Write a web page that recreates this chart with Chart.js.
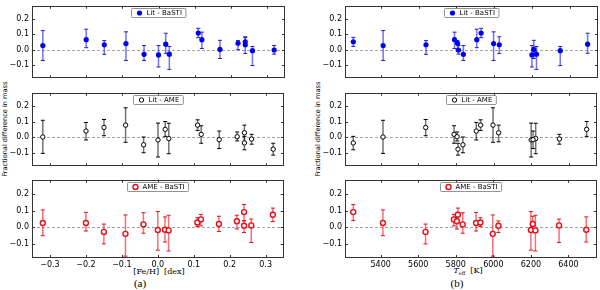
<!DOCTYPE html>
<html>
<head>
<meta charset="utf-8">
<script src="https://cdn.jsdelivr.net/npm/chart.js@4.4.0/dist/chart.umd.min.js"></script>
<style>
  body { margin: 0; width: 600px; height: 290px; overflow: hidden; position: relative; background: #fff; font-family: 'DejaVu Sans', sans-serif; }
  canvas { position: absolute; }
  .lbl { position: absolute; white-space: nowrap; transform: translate(-50%, -50%); color: #000; }
  .ylab { font-size: 6.6px; transform: translate(-50%, -50%) rotate(-90deg); }
  .xlab { font-family: 'DejaVu Serif', serif; font-size: 8px; }
  .cap { font-family: 'Liberation Serif', serif; font-size: 11px; }
</style>
</head>
<body>

<div class="lbl ylab" style="left:5px;top:129px">Fractional difference in mass</div>
<div class="lbl ylab" style="left:318px;top:129px">Fractional difference in mass</div>
<div class="lbl xlab" style="left:159px;top:271px">[Fe/H] &nbsp;[dex]</div>
<div class="lbl xlab" style="left:468px;top:271px"><i>T</i><sub style="font-size:5px">eff</sub> &nbsp;[K]</div>
<div class="lbl cap" style="left:140px;top:283px">(a)</div>
<div class="lbl cap" style="left:457px;top:283px">(b)</div>

<script>
// one entry per star, same order in every array
const feh  = [-0.32, -0.20, -0.15, -0.09, -0.04, 0.00, 0.02, 0.03, 0.11, 0.12, 0.17, 0.22, 0.24, 0.24, 0.26, 0.32];
const teff = [5412, 5908, 5639, 5997, 5837, 6200, 6495, 6224, 5931, 5790, 6210, 5806, 5254, 6027, 6350, 5811];

// Lit - BaSTI
const litBasti   = [0.027, 0.065, 0.032, 0.040, -0.030, -0.034, 0.036, -0.029, 0.108, 0.065, 0.002, 0.042, 0.051, 0.032, -0.006, -0.002];
const litBastiLo = [-0.070, 0.013, -0.030, -0.070, -0.070, -0.112, -0.023, -0.128, 0.078, 0.008, -0.057, 0.000, 0.021, -0.025, -0.103, -0.029];
const litBastiHi = [0.124, 0.133, 0.059, 0.116, 0.027, 0.027, 0.107, 0.021, 0.139, 0.114, 0.061, 0.059, 0.080, 0.084, 0.021, 0.027];

// Lit - AME
const litAme   = [0.002, 0.040, 0.063, 0.078, -0.048, -0.017, 0.051, -0.008, 0.078, 0.019, -0.015, 0.004, -0.036, 0.029, -0.011, -0.076];
const litAmeLo = [-0.103, -0.017, 0.010, -0.032, -0.099, -0.126, 0.006, -0.105, 0.044, -0.038, -0.072, -0.023, -0.080, -0.029, -0.044, -0.114];
const litAmeHi = [0.109, 0.095, 0.114, 0.189, 0.002, 0.091, 0.101, 0.090, 0.112, 0.074, 0.040, 0.034, 0.006, 0.078, 0.019, -0.038];

// AME - BaSTI
const ameBasti   = [0.025, 0.025, -0.028, -0.040, 0.017, -0.017, -0.015, -0.019, 0.028, 0.047, 0.019, 0.036, 0.091, 0.009, 0.011, 0.075];
const ameBastiLo = [-0.051, -0.023, -0.100, -0.174, -0.036, -0.138, -0.089, -0.143, 0.004, 0.008, -0.026, -0.011, 0.040, -0.032, -0.092, 0.034];
const ameBastiHi = [0.104, 0.089, 0.019, 0.074, 0.087, 0.094, 0.062, 0.072, 0.057, 0.077, 0.066, 0.072, 0.136, 0.038, 0.049, 0.115];

const fehTicks  = [-0.3, -0.2, -0.1, 0.0, 0.1, 0.2, 0.3];
const teffTicks = [5400, 5600, 5800, 6000, 6200, 6400];
const yTicks    = [-0.1, 0.0, 0.1, 0.2];

// layout (pixels)
const yW = 32, pad = 3, areaW = 254;
const cols = [
  { left: 32,  min: -0.35, max: 0.35, xs: feh,  ticks: fehTicks },
  { left: 345, min: 5210,  max: 6550, xs: teff, ticks: teffTicks }
];
const rows = [
  { top: 1,   h: 82, label: 'Lit - BaSTI', y: litBasti, lo: litBastiLo, hi: litBastiHi,
    fill: '#0000f0', edge: '#0000f0', r: 2.6, bw: 0, bar: 'rgba(40,40,230,0.65)', capc: '#2020c0' },
  { top: 88,  h: 83, label: 'Lit - AME', y: litAme, lo: litAmeLo, hi: litAmeHi,
    fill: '#ffffff', edge: '#000000', r: 2.2, bw: 1, bar: 'rgba(0,0,0,0.55)', capc: '#000' },
  { top: 175, h: 83, label: 'AME - BaSTI', y: ameBasti, lo: ameBastiLo, hi: ameBastiHi,
    fill: '#ffffff', edge: '#e8101a', r: 2.5, bw: 1.4, bar: 'rgba(230,20,30,0.6)', capc: '#e01018' }
];

const fmt = v => (v < 0 ? '\u2212' : '') + Math.abs(v).toFixed(1);

function marker(ctx, x, y, s) {
  ctx.beginPath();
  ctx.arc(x, y, s.r, 0, Math.PI * 2);
  ctx.fillStyle = s.fill;
  ctx.fill();
  if (s.bw) { ctx.lineWidth = s.bw; ctx.strokeStyle = s.edge; ctx.stroke(); }
}

const panelPlugin = {
  id: 'panel',
  beforeDatasetsDraw(chart, args, opts) {
    const { ctx, chartArea: a, scales: { x, y } } = chart;
    ctx.save();
    // dashed zero line
    const y0 = Math.round(y.getPixelForValue(0)) + 0.5;
    ctx.setLineDash([3, 2]);
    ctx.strokeStyle = '#8c8c8c';
    ctx.lineWidth = 0.8;
    ctx.beginPath(); ctx.moveTo(a.left, y0); ctx.lineTo(a.right, y0); ctx.stroke();
    ctx.setLineDash([]);
    // error bars
    chart.data.datasets[0].data.forEach(p => {
      const px = x.getPixelForValue(p.x);
      const t = y.getPixelForValue(p.hi), b = y.getPixelForValue(p.lo);
      ctx.strokeStyle = opts.s.bar; ctx.lineWidth = 1.5;
      ctx.beginPath(); ctx.moveTo(px, t); ctx.lineTo(px, b); ctx.stroke();
      ctx.strokeStyle = opts.s.capc; ctx.lineWidth = 1;
      ctx.beginPath();
      ctx.moveTo(px - 2, t); ctx.lineTo(px + 2, t);
      ctx.moveTo(px - 2, b); ctx.lineTo(px + 2, b);
      ctx.stroke();
    });
    ctx.restore();
  },
  afterDraw(chart, args, opts) {
    const { ctx, chartArea: a, scales: { x, y } } = chart;
    ctx.save();
    ctx.strokeStyle = '#333';
    ctx.lineWidth = 1;
    ctx.strokeRect(Math.round(a.left) + 0.5, Math.round(a.top) + 0.5, Math.round(a.right - a.left) - 1, Math.round(a.bottom - a.top) - 1);
    // inward tick marks
    ctx.beginPath();
    x.ticks.forEach(t => {
      const px = Math.round(x.getPixelForValue(t.value)) + 0.5;
      ctx.moveTo(px, a.top); ctx.lineTo(px, a.top + 3);
      ctx.moveTo(px, a.bottom); ctx.lineTo(px, a.bottom - 3);
    });
    y.ticks.forEach(t => {
      const py = Math.round(y.getPixelForValue(t.value)) + 0.5;
      ctx.moveTo(a.left, py); ctx.lineTo(a.left + 3, py);
      ctx.moveTo(a.right, py); ctx.lineTo(a.right - 3, py);
    });
    ctx.stroke();
    // legend box
    ctx.font = '7px "DejaVu Sans"';
    const tw = ctx.measureText(opts.s.label).width;
    const bw = tw + 19, bh = 9;
    const bx = Math.round((a.left + a.right) / 2 - bw / 2) + 0.5, by = Math.round(a.top) + 2.5;
    ctx.fillStyle = '#fff';
    ctx.strokeStyle = '#777';
    ctx.lineWidth = 0.8;
    ctx.beginPath(); ctx.roundRect(bx, by, bw, bh, 1); ctx.fill(); ctx.stroke();
    marker(ctx, bx + 8, by + bh / 2, opts.s);
    ctx.fillStyle = '#000';
    ctx.textBaseline = 'middle';
    ctx.fillText(opts.s.label, bx + 15, by + bh / 2 + 0.5);
    ctx.restore();
  }
};

cols.forEach(c => {
  rows.forEach((s, ri) => {
    const bottom = ri === rows.length - 1;
    const xH = bottom ? 14 : pad;
    const cv = document.createElement('canvas');
    cv.width = yW + areaW + pad;
    cv.height = pad + s.h + xH;
    cv.style.left = (c.left - yW) + 'px';
    cv.style.top = (s.top - pad) + 'px';
    document.body.appendChild(cv);

    const pts = c.xs.map((xv, i) => ({ x: xv, y: s.y[i], lo: s.lo[i], hi: s.hi[i] }));

    new Chart(cv, {
      type: 'scatter',
      data: {
        datasets: [{
          label: s.label,
          data: pts,
          pointStyle: 'circle',
          pointRadius: s.r,
          pointBackgroundColor: s.fill,
          pointBorderColor: s.edge,
          pointBorderWidth: s.bw
        }]
      },
      options: {
        responsive: false,
        animation: false,
        events: [],
        layout: { padding: { top: pad, right: pad, left: 0, bottom: 0 } },
        plugins: { legend: { display: false }, tooltip: { enabled: false }, panel: { s: s } },
        scales: {
          x: {
            type: 'linear', min: c.min, max: c.max,
            afterBuildTicks: sc => { sc.ticks = c.ticks.map(v => ({ value: v })); },
            afterFit: sc => { sc.height = xH; },
            grid: { display: false, drawTicks: false },
            border: { display: false },
            ticks: {
              display: bottom, padding: 2, color: '#000',
              font: { family: 'DejaVu Sans', size: 8 },
              callback: v => (c.min < 0 ? fmt(v) : String(v))
            }
          },
          y: {
            type: 'linear', min: -0.185, max: 0.285,
            afterBuildTicks: sc => { sc.ticks = yTicks.map(v => ({ value: v })); },
            afterFit: sc => { sc.width = yW; },
            grid: { display: false, drawTicks: false },
            border: { display: false },
            ticks: { padding: 3, color: '#000', font: { family: 'DejaVu Sans', size: 8 }, callback: v => fmt(v) }
          }
        }
      },
      plugins: [panelPlugin]
    });
  });
});
</script>
</body>
</html>
